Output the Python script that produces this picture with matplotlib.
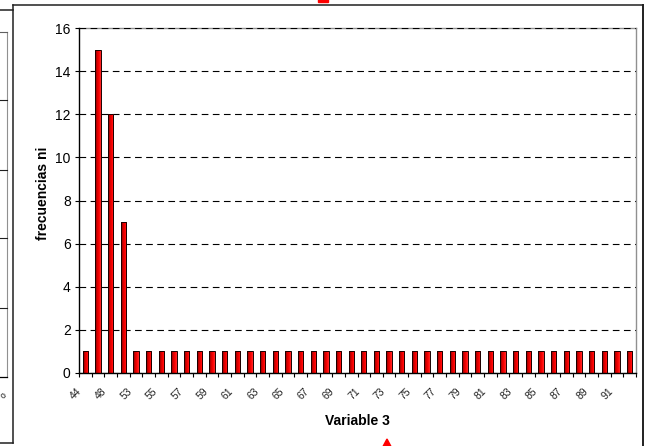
import matplotlib
matplotlib.use('Agg')
import matplotlib.pyplot as plt
import numpy as np
from matplotlib.lines import Line2D
from matplotlib.patches import Polygon
from matplotlib.colors import LinearSegmentedColormap
import matplotlib.transforms as mtransforms

plt.rcParams['font.family'] = ['Liberation Sans', 'DejaVu Sans']

# ---- data ----
categories = [44, 47, 48, 52, 53, 54, 55, 56, 57, 58, 59, 60, 61, 62, 63, 64,
              65, 66, 67, 68, 69, 70, 71, 72, 73, 74, 75, 76, 77, 78, 79, 80,
              81, 82, 83, 84, 85, 86, 87, 88, 89, 90, 91, 92]
values = [1, 15, 12, 7, 1, 1, 1, 1, 1, 1, 1, 1, 1, 1, 1, 1,
          1, 1, 1, 1, 1, 1, 1, 1, 1, 1, 1, 1, 1, 1, 1, 1,
          1, 1, 1, 1, 1, 1, 1, 1, 1, 1, 1, 1]
y_ticks = [0, 2, 4, 6, 8, 10, 12, 14, 16]
x_title = 'Variable 3'
y_title = 'frecuencias ni'

W, H = 652, 446
fig = plt.figure(figsize=(W / 100, H / 100), dpi=100)


def fx(px):
    return px / W


def fy(py):
    return 1 - py / H


ax = fig.add_axes([fx(79), fy(373), (636 - 79) / W, (373 - 28) / H])

x = np.arange(len(categories))
bw = 0.42
bars = ax.bar(x, values, width=bw, color='#ff0000', linewidth=0, zorder=2)

cmap = LinearSegmentedColormap.from_list('g', ['#6a0000', '#d00000', '#ff0000', '#ff2a2a'])
grad = np.linspace(0, 1, 32).reshape(1, -1)
for b in bars:
    im = ax.imshow(grad, cmap=cmap, aspect='auto', zorder=2.2,
                   extent=[b.get_x(), b.get_x() + b.get_width(), 0, b.get_height()],
                   interpolation='bilinear')
    im.set_clip_path(b)
ax.bar(x, values, width=bw, facecolor='none', edgecolor='#1a0000', linewidth=0.7, zorder=2.5)

ax.set_xlim(-0.5, len(categories) - 0.5)
ax.set_ylim(0, 16)
ax.set_aspect('auto')

# grid
ax.set_yticks(y_ticks)
ax.yaxis.grid(True, color='black', linestyle=(0, (6, 4)), linewidth=0.8, zorder=1)
ax.set_axisbelow(True)

for s in ['left', 'bottom']:
    ax.spines[s].set_color('black')
    ax.spines[s].set_linewidth(1.0)
for s in ['top', 'right']:
    ax.spines[s].set_color('#909090')
    ax.spines[s].set_linewidth(1.0)
ax.spines['top'].set_zorder(0.4)

ax.tick_params(axis='y', direction='out', length=3, width=0.8, labelsize=10, pad=3)

ax.set_xticks(x)
labels = [str(c) if i % 2 == 0 else '' for i, c in enumerate(categories)]
ax.set_xticklabels(labels, rotation=45, ha='right', va='top',
                   rotation_mode='anchor', fontsize=7.5, color='#202020')
ax.set_xticks(np.arange(len(categories) + 1) - 0.5, minor=True)
ax.tick_params(axis='x', which='major', length=0, pad=3)
ax.tick_params(axis='x', which='minor', direction='out', length=3, width=0.8)
off = mtransforms.ScaledTranslation(-9 / 100, -9 / 100, fig.dpi_scale_trans)
for lab in ax.get_xticklabels():
    lab.set_transform(lab.get_transform() + off)

ax.set_ylabel(y_title, fontsize=10, fontweight='bold')
ax.yaxis.set_label_coords(-0.052, 0.52)
ax.set_xlabel(x_title, fontsize=10, fontweight='bold')
ax.xaxis.set_label_coords(0.5, -0.12)

# ---- surrounding frames (pixel coordinates of the screenshot) ----
def fline(x0, y0, x1, y1, color='#202020', lw=1.1):
    fig.add_artist(Line2D([fx(x0), fx(x1)], [fy(y0), fy(y1)], color=color,
                          linewidth=lw, transform=fig.transFigure))

fline(13, 5, 643, 5)
fline(13, 5, 13, 443)
fline(643, 5, 643, 446, lw=1.4)
fline(0, 10, 13, 10)
fline(0, 443, 13, 443)
fline(7, 32, 7, 377, color='#909090', lw=0.8)
for yy in [100, 170, 238, 308]:
    fline(0, yy, 7, yy, color='#202020', lw=0.8)
fline(0, 32, 7, 32, color='#606060', lw=0.8)
fline(0, 377, 7, 377, color='black', lw=0.9)
fig.text(fx(0.5), fy(396), '0', fontsize=6, rotation=45, ha='left', va='center')

# red markers
fig.add_artist(Polygon([(fx(387), fy(439)), (fx(383), fy(446.5)), (fx(391), fy(446.5))],
                       closed=True, color='#ff0000', transform=fig.transFigure))
fig.add_artist(Polygon([(fx(318), fy(-1)), (fx(328), fy(-1)), (fx(328), fy(2)), (fx(318), fy(2))],
                       closed=True, color='#ff0000', transform=fig.transFigure))

fig.savefig('out.png', dpi=100)
